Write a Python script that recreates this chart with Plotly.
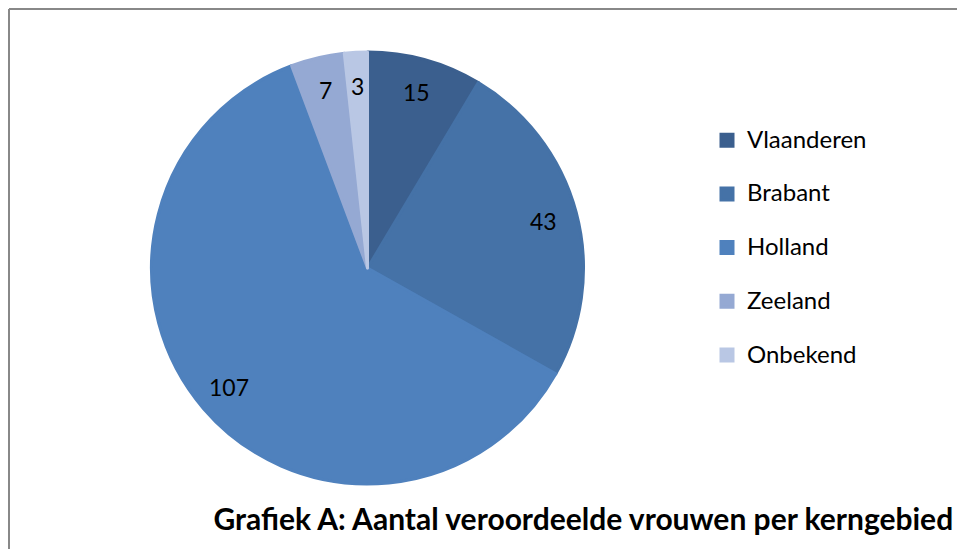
import math
import plotly.graph_objects as go

regions = ["Vlaanderen", "Brabant", "Holland", "Zeeland", "Onbekend"]
counts = [15, 43, 107, 7, 3]
colors = ["#3B5F8E", "#4572A7", "#4F81BD", "#95A9D3", "#B9C7E4"]
title_text = "Grafiek A: Aantal veroordeelde vrouwen per kerngebied"

W, H = 957, 549
dom_x = [151 / W, 584 / W]
dom_y = [1 - 484 / H, 1 - 52 / H]
FONT = "Lato, 'Open Sans', sans-serif"

legend_labels = ['<span style="font-size:24px">' + r + "</span><br> " for r in regions]

fig = go.Figure()
fig.add_trace(go.Pie(
    labels=legend_labels,
    values=counts,
    sort=False,
    direction="clockwise",
    rotation=0,
    marker=dict(colors=colors, line=dict(color=colors, width=3)),
    textinfo="none",
    hoverinfo="value",
    domain=dict(x=dom_x, y=dom_y),
    showlegend=True,
))

# value labels placed at ~0.86 radius along each slice's mid-angle
total = sum(counts)
cx = (dom_x[0] + dom_x[1]) / 2
cy = (dom_y[0] + dom_y[1]) / 2
R = min((dom_x[1] - dom_x[0]) * W, (dom_y[1] - dom_y[0]) * H) / 2
r_lab = 0.845 * R
cum = 0
for v in counts:
    f = (cum + v / 2) / total
    ang = math.radians(90 - 360 * f)
    fig.add_annotation(
        x=cx + r_lab * math.cos(ang) / W,
        y=cy + r_lab * math.sin(ang) / H,
        xref="paper", yref="paper", text=str(v), showarrow=False,
        xanchor="center", yanchor="middle",
        font=dict(family=FONT, size=23, color="#000000"),
    )
    cum += v

# chart frame (top and left edges visible)
fig.add_shape(type="line", xref="paper", yref="paper",
              x0=9 / W, x1=1, y0=1 - 9 / H, y1=1 - 9 / H,
              line=dict(color="#888888", width=2))
fig.add_shape(type="line", xref="paper", yref="paper",
              x0=9 / W, x1=9 / W, y0=0, y1=1 - 9 / H,
              line=dict(color="#888888", width=2))

fig.update_layout(
    width=W, height=H,
    margin=dict(l=0, r=0, t=0, b=0),
    paper_bgcolor="white",
    plot_bgcolor="white",
    font=dict(family=FONT, color="#000000"),
    title=dict(
        text="<b>" + title_text + "</b>",
        x=0.996, xanchor="right", xref="container",
        y=1 - 519 / H, yanchor="middle", yref="container",
        font=dict(family=FONT, size=30, color="#000000"),
    ),
    legend=dict(
        x=707 / W, xanchor="left",
        y=1 - 121 / H, yanchor="top",
        valign="top",
        font=dict(family=FONT, size=19.5, color="#000000"),
        bgcolor="rgba(0,0,0,0)",
    ),
)

fig.write_html(
    "out.html",
    config={"displayModeBar": False},
    post_script="document.body.style.margin='0';document.body.style.overflow='hidden';",
)
